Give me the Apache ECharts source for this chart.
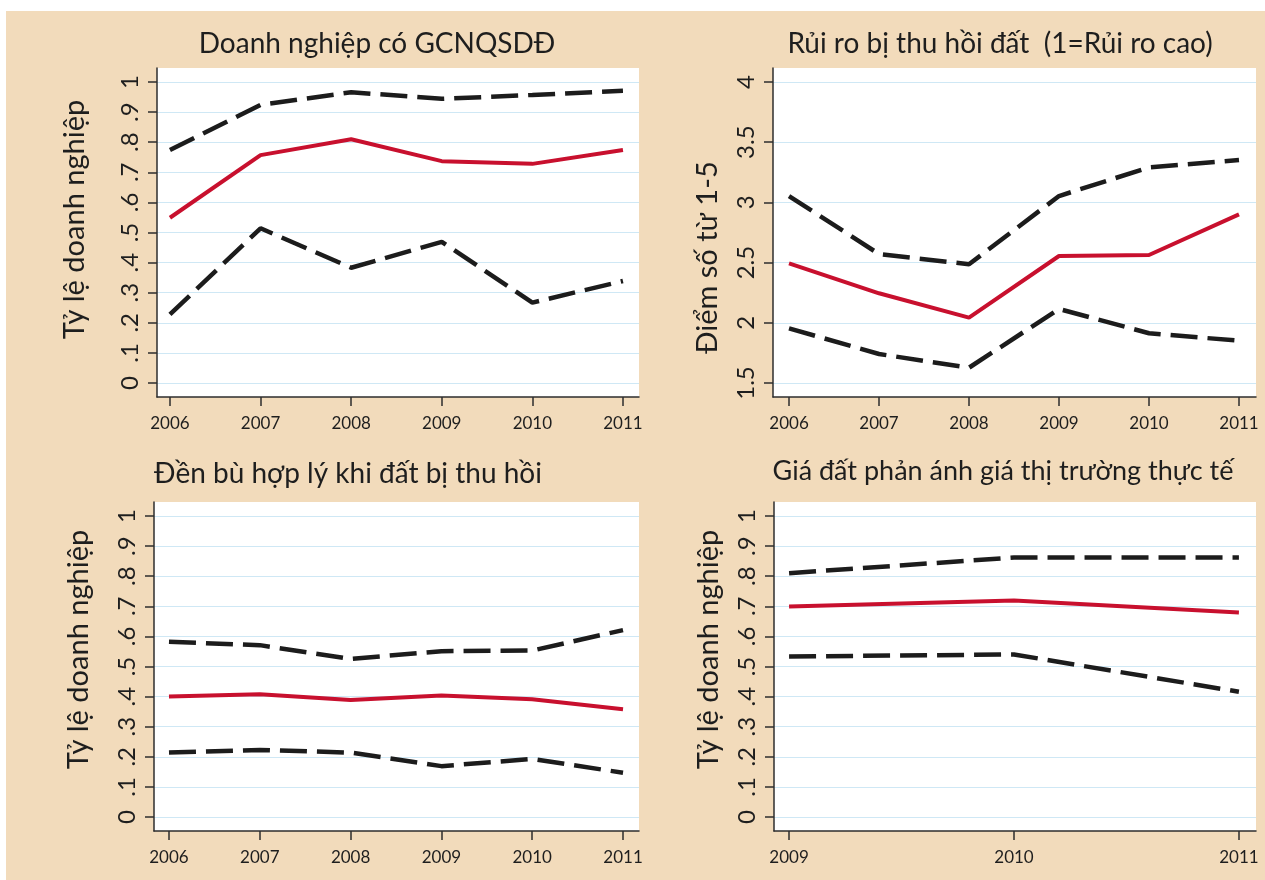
<!DOCTYPE html>
<html><head><meta charset="utf-8">
<script src="https://cdn.jsdelivr.net/npm/echarts@6/dist/echarts.min.js"></script>
<style>html,body{margin:0;padding:0;background:#fff}#c{width:1265px;height:880px}</style>
</head><body><div id="c"></div>
<script>
// ---------- DATA ----------
const years6 = [2006, 2007, 2008, 2009, 2010, 2011];
const years3 = [2009, 2010, 2011];

const titles = [
  'Doanh nghiệp có GCNQSDĐ',
  'Rủi ro bị thu hồi đất  (1=Rủi ro cao)',
  'Đền bù hợp lý khi đất bị thu hồi',
  'Giá đất phản ánh giá thị trường thực tế'
];
const yNames = ['Tỷ lệ doanh nghiệp', 'Điểm số từ 1-5', 'Tỷ lệ doanh nghiệp', 'Tỷ lệ doanh nghiệp'];

// Panel 1: Doanh nghiệp có GCNQSDĐ
const p1Upper = [0.774, 0.924, 0.966, 0.944, 0.957, 0.971];
const p1Mean  = [0.549, 0.757, 0.810, 0.737, 0.728, 0.774];
const p1Lower = [0.228, 0.514, 0.383, 0.469, 0.267, 0.339];

// Panel 2: Rủi ro bị thu hồi đất
const p2Upper = [3.053, 2.571, 2.486, 3.053, 3.291, 3.352];
const p2Mean  = [2.494, 2.245, 2.043, 2.555, 2.563, 2.901];
const p2Lower = [1.954, 1.741, 1.627, 2.115, 1.913, 1.851];

// Panel 3: Đền bù hợp lý
const p3Upper = [0.582, 0.571, 0.525, 0.551, 0.553, 0.621];
const p3Mean  = [0.400, 0.408, 0.389, 0.404, 0.391, 0.358];
const p3Lower = [0.214, 0.223, 0.214, 0.169, 0.193, 0.147];

// Panel 4: Giá đất phản ánh giá thị trường
const p4Upper = [0.810, 0.862, 0.862];
const p4Mean  = [0.699, 0.719, 0.679];
const p4Lower = [0.533, 0.540, 0.416];

// Tick values and labels
const ticks01 = [0, 0.1, 0.2, 0.3, 0.4, 0.5, 0.6, 0.7, 0.8, 0.9, 1];
const labels01 = ['0', '.1', '.2', '.3', '.4', '.5', '.6', '.7', '.8', '.9', '1'];
const ticksScore = [1.5, 2, 2.5, 3, 3.5, 4];
const labelsScore = ['1.5', '2', '2.5', '3', '3.5', '4'];

// ---------- LAYOUT / STYLE ----------
const FONT = 'Lato, "Open Sans", "DejaVu Sans", sans-serif';
const BEIGE = '#f2dbbb';
const AXIS = '#2e2e2e';
const GRIDLINE = '#cfe8f5';
const RED = '#c8102e';
const DARK = '#1c1c1c';

const panels = [
  { x: years6, up: p1Upper, mean: p1Mean, low: p1Lower, yt: ticks01, yl: labels01,
    grid: { left: 157, top: 68, width: 482, height: 329 }, xr: [2005.857, 2011.177], yr: [-0.0465, 1.0465],
    nameGap: 68, namePad: [0, 0, 0, 26], title: [377, 44], tfs: 28 },
  { x: years6, up: p2Upper, mean: p2Mean, low: p2Lower, yt: ticksScore, yl: labelsScore,
    grid: { left: 773, top: 68, width: 483, height: 329 }, xr: [2005.822, 2011.189], yr: [1.3837, 4.1163],
    nameGap: 51, namePad: [0, 50, 0, 0], title: [1000, 44], tfs: 28 },
  { x: years6, up: p3Upper, mean: p3Mean, low: p3Lower, yt: ticks01, yl: labels01,
    grid: { left: 154, top: 502, width: 485, height: 329 }, xr: [2005.835, 2011.176], yr: [-0.0465, 1.0465],
    nameGap: 61, namePad: [0, 0, 0, 34], title: [348, 474], tfs: 28 },
  { x: years3, up: p4Upper, mean: p4Mean, low: p4Lower, yt: ticks01, yl: labels01,
    grid: { left: 774, top: 502, width: 482, height: 329 }, xr: [2008.933, 2011.076], yr: [-0.0465, 1.0465],
    nameGap: 51, namePad: [0, 0, 0, 34], title: [1003, 471], tfs: 27 }
];

const grids = [], xAxes = [], yAxes = [], series = [], titleOpts = [];
panels.forEach((p, i) => {
  grids.push(Object.assign({ show: true, backgroundColor: '#ffffff', borderWidth: 0, containLabel: false }, p.grid));
  titleOpts.push({
    text: titles[i], left: p.title[0], top: p.title[1], textAlign: 'center', textVerticalAlign: 'middle', padding: 0,
    textStyle: { fontFamily: FONT, fontSize: p.tfs, fontWeight: 'normal', color: '#1e1e1e' }
  });
  xAxes.push({
    type: 'value', gridIndex: i, min: p.xr[0], max: p.xr[1],
    axisLine: { show: true, onZero: false, lineStyle: { color: AXIS, width: 1.5 } },
    axisTick: { show: true, length: 9, customValues: p.x, lineStyle: { color: AXIS, width: 1.5 } },
    axisLabel: { customValues: p.x, margin: 18, fontSize: 17, color: '#1e1e1e', fontFamily: FONT,
      formatter: v => String(Math.round(v)) },
    splitLine: { show: false }
  });
  yAxes.push({
    type: 'value', gridIndex: i, min: p.yr[0], max: p.yr[1],
    axisLine: { show: true, onZero: false, lineStyle: { color: AXIS, width: 1.5 } },
    axisTick: { show: true, length: 9, customValues: p.yt, lineStyle: { color: AXIS, width: 1.5 } },
    axisLabel: { customValues: p.yt, rotate: 90, margin: 15, fontSize: 24, color: '#1e1e1e', fontFamily: FONT,
      formatter: v => { const k = p.yt.findIndex(t => Math.abs(t - v) < 1e-9); return k >= 0 ? p.yl[k] : ''; } },
    splitLine: { show: true, lineStyle: { color: GRIDLINE, width: 1.2 } },
    name: yNames[i], nameLocation: 'middle', nameGap: p.nameGap, nameRotate: 90,
    nameTextStyle: { fontFamily: FONT, fontSize: 29, color: '#1e1e1e', padding: p.namePad }
  });
  const mk = (vals, dashed) => ({
    type: 'line', xAxisIndex: i, yAxisIndex: i, symbol: 'none', showSymbol: false, animation: false,
    data: p.x.map((yr, k) => [yr, vals[k]]),
    lineStyle: dashed ? { color: DARK, width: 4.5, type: [27, 10], cap: 'butt' } : { color: RED, width: 4 },
    z: dashed ? 3 : 4
  });
  series.push(mk(p.up, true), mk(p.mean, false), mk(p.low, true));
});

const chart = echarts.init(document.getElementById('c'), null, { renderer: 'canvas', width: 1265, height: 880 });
chart.setOption({
  backgroundColor: BEIGE,
  animation: false,
  title: titleOpts,
  graphic: [
    { type: 'rect', shape: { x: 0, y: 0, width: 1265, height: 11 }, style: { fill: '#ffffff' }, silent: true },
    { type: 'rect', shape: { x: 0, y: 0, width: 6, height: 880 }, style: { fill: '#ffffff' }, silent: true }
  ],
  grid: grids, xAxis: xAxes, yAxis: yAxes, series: series
});
</script></body></html>
